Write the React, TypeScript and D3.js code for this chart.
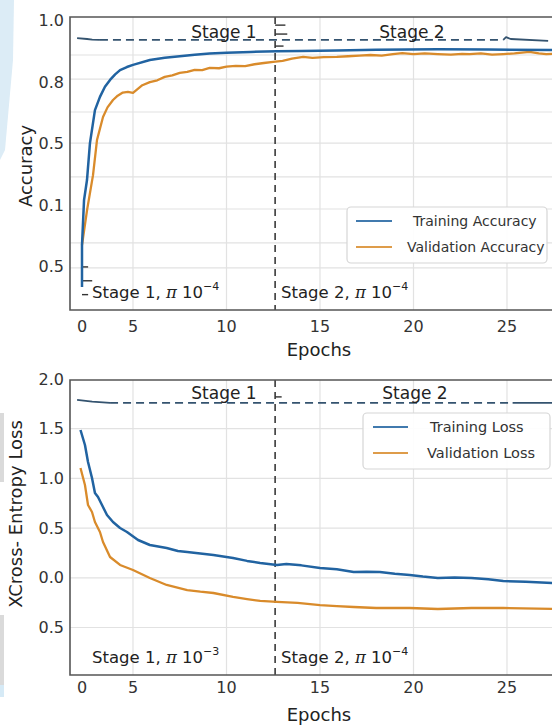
import React from 'react';
import * as d3 from 'd3';

const W = 552;
const H = 726;

// ---- axes / ticks ----
const xTicks = [0, 5, 10, 15, 20, 25];
const xGridTicks = [5, 10, 15, 20, 25];
const stageBoundary = 12.6;

const accTickValues = [1.0, 0.8, 0.6, 0.4, 0.2];
const accTickLabels = ['1.0', '0.8', '0.5', '0.1', '0.5'];
const accGridValues = [0.888, 0.81, 0.703, 0.602, 0.492, 0.388, 0.278, 0.197];

const lossTickValues = [2.0, 1.5, 1.0, 0.5, 0.0, -0.5];
const lossTickLabels = ['2.0', '1.5', '1.0', '0.5', '0.0', '0.5'];
const lossGridValues = [1.5, 1.0, 0.5, 0.0, -0.5];

// ---- accuracy series ----
const trainAccEpochs = [0, 0, 0.2, 0.49, 0.78, 1.27, 1.76, 2.25, 2.75, 3.25, 3.73, 4.4, 5, 5.9, 6.7, 7.5, 8.3, 9.1, 10.0, 11.3, 12.7, 14.0, 15.9, 18.0, 21.3, 24.0, 27.6];
const trainAcc = [0.135, 0.271, 0.417, 0.482, 0.602, 0.709, 0.752, 0.785, 0.807, 0.825, 0.839, 0.849, 0.856, 0.872, 0.879, 0.884, 0.889, 0.893, 0.895, 0.898, 0.9, 0.901, 0.903, 0.905, 0.907, 0.906, 0.904];

const valAccEpochs = [0, 0.5, 1.08, 1.47, 2.06, 2.5, 3.04, 3.5, 4.0, 4.5, 5.0, 5.5, 5.9, 6.3, 6.7, 7.1, 7.5, 7.9, 8.3, 8.7, 9.1, 9.6, 10.0, 10.5, 11.0, 11.5, 12.0, 12.5, 13.0, 13.5, 14.1, 14.6, 15.2, 15.9, 16.5, 17.1, 17.7, 18.3, 18.9, 19.4, 20.0, 20.6, 21.3, 22.0, 22.6, 23.0, 23.6, 24.2, 24.8, 25.4, 25.8, 26.2, 26.7, 27.1, 27.6];
const valAcc = [0.271, 0.385, 0.498, 0.612, 0.687, 0.718, 0.742, 0.756, 0.766, 0.768, 0.765, 0.79, 0.8, 0.806, 0.817, 0.822, 0.83, 0.833, 0.84, 0.839, 0.846, 0.845, 0.85, 0.853, 0.852, 0.858, 0.862, 0.866, 0.869, 0.876, 0.882, 0.879, 0.881, 0.882, 0.884, 0.886, 0.888, 0.886, 0.891, 0.894, 0.891, 0.893, 0.891, 0.889, 0.892, 0.891, 0.893, 0.889, 0.891, 0.893, 0.896, 0.898, 0.893, 0.891, 0.892];

const refAccSolidEpochs = [-0.49, 0.5, 1.0, 1.76];
const refAccSolid = [0.943, 0.94, 0.938, 0.937];
const refAccDashEpochs = [1.76, 24.8];
const refAccDash = [0.937, 0.937];
const refAccTailEpochs = [24.8, 24.95, 25.2, 27.2];
const refAccTail = [0.937, 0.946, 0.94, 0.934];

const accBoundaryTickValues = [0.985, 0.956, 0.917];
const accBoundaryTickLengths = [0.55, 0.65, 0.45];
const accStartTickValues = [0.2, 0.155, 0.11];
const accStartTickLengths = [0.6, 1.0, 0.6];

// ---- loss series ----
const trainLossEpochs = [-0.15, 0.29, 0.59, 0.98, 1.27, 1.57, 1.96, 2.45, 3.04, 3.73, 4.41, 5.27, 5.9, 6.8, 7.4, 7.9, 8.6, 9.3, 10.35, 11.1, 11.8, 12.7, 13.2, 14.0, 15.0, 15.9, 16.8, 17.5, 18.2, 19.0, 19.8, 20.5, 21.3, 22.2, 23.1, 24.0, 24.8, 26.0, 27.6];
const trainLoss = [1.487, 1.336, 1.165, 1.004, 0.853, 0.813, 0.732, 0.632, 0.561, 0.501, 0.461, 0.38, 0.33, 0.3, 0.27, 0.26, 0.245, 0.229, 0.199, 0.17, 0.149, 0.129, 0.139, 0.125, 0.099, 0.085, 0.058, 0.062, 0.058, 0.04, 0.028, 0.012, -0.002, 0.003, -0.002, -0.015, -0.032, -0.04, -0.055];

const valLossEpochs = [-0.15, 0.29, 0.59, 0.98, 1.27, 1.76, 2.06, 2.75, 3.73, 5.0, 5.9, 6.8, 7.9, 8.6, 9.3, 10.35, 11.1, 11.8, 12.7, 13.8, 15.0, 15.9, 16.8, 18.0, 19.8, 21.3, 23.1, 24.8, 27.6];
const valLoss = [1.105, 0.934, 0.732, 0.662, 0.561, 0.461, 0.36, 0.209, 0.129, 0.078, -0.002, -0.072, -0.123, -0.14, -0.153, -0.193, -0.215, -0.233, -0.243, -0.253, -0.274, -0.285, -0.294, -0.304, -0.304, -0.314, -0.304, -0.304, -0.314];

const refLossSolidEpochs = [-0.49, 1.0, 2.75];
const refLossSolid = [1.789, 1.772, 1.759];
const refLossDashEpochs = [2.75, 25.3];
const refLossDash = [1.759, 1.759];
const refLossTailEpochs = [25.3, 27.6];
const refLossTail = [1.759, 1.759];

const lossBoundaryTickValues = [1.82];
const lossBoundaryTickLengths = [0.35];

// ---- styles ----
const BLUE = '#2163a1';
const ORANGE = '#d98b2b';
const REF = '#34536f';
const FRAME = '#555';
const GRID = '#e2e2e2';
const FONT = 'DejaVu Sans, sans-serif';

const PLOT_LEFT = 70;
const PLOT_RIGHT = 556;

const x = d3.scaleLinear().domain([-1.2, 0, 5, 25]).range([PLOT_LEFT, 82, 133, 507]);

const zip = (a: number[], b: number[]) => a.map((v, i) => [v, b[i]] as [number, number]);

type PanelProps = {
  id: string;
  top: number;
  bottom: number;
  y: d3.ScaleLinear<number, number>;
  tickValues: number[];
  tickLabels: string[];
  gridValues: number[];
  series: { pts: [number, number][]; color: string; width: number; dash?: string }[];
  stageY: number;
  stageLeftText: string;
  stageLeftExp: string;
  stageRightExp: string;
  stageTextY: number;
  stage1X: number;
  stage2X: number;
  xLabelY: number;
  tickLabelY: number;
  legend: { x: number; y: number; w: number; h: number; items: { label: string; color: string; tx: number }[]; fs: number; lineX0: number; lineX1: number; rowH: number };
  yTitle: string;
  yTitleX: number;
  yTitleY: number;
  boundaryTicks: { v: number; len: number }[];
  startTicks: { v: number; len: number }[];
};

function Panel(p: PanelProps) {
  const line = d3
    .line<[number, number]>()
    .x((d) => x(d[0]))
    .y((d) => p.y(d[1]));
  const bx = x(stageBoundary);
  return (
    <g>
      <defs>
        <clipPath id={p.id}>
          <rect x={PLOT_LEFT} y={p.top} width={PLOT_RIGHT - PLOT_LEFT} height={p.bottom - p.top} />
        </clipPath>
      </defs>
      {/* grid */}
      {p.gridValues.map((v, i) => (
        <line key={'gy' + i} x1={PLOT_LEFT} x2={PLOT_RIGHT} y1={p.y(v)} y2={p.y(v)} stroke={GRID} strokeWidth={1.2} />
      ))}
      {xGridTicks.map((t) => (
        <line key={'gx' + t} x1={x(t)} x2={x(t)} y1={p.top} y2={p.bottom} stroke={GRID} strokeWidth={1.2} />
      ))}
      {/* stage boundary */}
      <line x1={bx} x2={bx} y1={p.top} y2={p.bottom} stroke="#3a3a3a" strokeWidth={1.6} strokeDasharray="7,5" />
      {p.boundaryTicks.map((t, i) => (
        <line key={'bt' + i} x1={bx} x2={x(stageBoundary + t.len)} y1={p.y(t.v)} y2={p.y(t.v)} stroke="#333" strokeWidth={1.4} />
      ))}
      {p.startTicks.map((t, i) => (
        <line key={'st' + i} x1={x(0)} x2={x(t.len)} y1={p.y(t.v)} y2={p.y(t.v)} stroke="#333" strokeWidth={1.4} />
      ))}
      {/* series */}
      <g clipPath={`url(#${p.id})`}>
        {p.series.map((s, i) => (
          <path
            key={'s' + i}
            d={line(s.pts) || ''}
            fill="none"
            stroke={s.color}
            strokeWidth={s.width}
            strokeDasharray={s.dash}
            strokeLinejoin="round"
            strokeLinecap="butt"
          />
        ))}
      </g>
      {/* frame */}
      <path
        d={`M${PLOT_RIGHT},${p.top}H${PLOT_LEFT}V${p.bottom}H${PLOT_RIGHT}`}
        fill="none"
        stroke={FRAME}
        strokeWidth={1.6}
      />
      {/* y tick labels */}
      {p.tickValues.map((v, i) => (
        <text key={'yl' + i} x={64} y={p.y(v)} textAnchor="end" dominantBaseline="central" fontSize={16} fontFamily={FONT} fill="#333">
          {p.tickLabels[i]}
        </text>
      ))}
      {/* x tick labels */}
      {xTicks.map((t) => (
        <text key={'xl' + t} x={x(t)} y={p.tickLabelY} textAnchor="middle" fontSize={16} fontFamily={FONT} fill="#333">
          {t}
        </text>
      ))}
      {/* stage titles */}
      <text x={p.stage1X} y={p.stageY} textAnchor="middle" fontSize={17} fontFamily={FONT} fill="#222">
        Stage 1
      </text>
      <text x={p.stage2X} y={p.stageY} textAnchor="middle" fontSize={17} fontFamily={FONT} fill="#222">
        Stage 2
      </text>
      {/* stage lr annotations */}
      <text x={92} y={p.stageTextY} fontSize={16.5} fontFamily={FONT} fill="#222">
        {p.stageLeftText}
        <tspan fontStyle="italic" fontFamily="DejaVu Serif, serif">π</tspan>
        {' 10'}
        <tspan fontSize={11} dy={-8}>{p.stageLeftExp}</tspan>
      </text>
      <text x={281} y={p.stageTextY} fontSize={16.5} fontFamily={FONT} fill="#222">
        {'Stage 2, '}
        <tspan fontStyle="italic" fontFamily="DejaVu Serif, serif">π</tspan>
        {' 10'}
        <tspan fontSize={11} dy={-8}>{p.stageRightExp}</tspan>
      </text>
      {/* legend */}
      <rect x={p.legend.x} y={p.legend.y} width={p.legend.w} height={p.legend.h} rx={4} fill="#fff" fillOpacity={0.92} stroke="#d6d6d6" strokeWidth={1.2} />
      {p.legend.items.map((it, i) => {
        const cy = p.legend.y + 14 + i * p.legend.rowH;
        return (
          <g key={'lg' + i}>
            <line x1={p.legend.lineX0} x2={p.legend.lineX1} y1={cy} y2={cy} stroke={it.color} strokeWidth={2.2} opacity={0.85} />
            <text x={it.tx} y={cy} dominantBaseline="central" fontSize={p.legend.fs} fontFamily={FONT} fill="#333">
              {it.label}
            </text>
          </g>
        );
      })}
      {/* axis titles */}
      <text x={319} y={p.xLabelY} textAnchor="middle" fontSize={18} fontFamily={FONT} fill="#222">
        Epochs
      </text>
      <text
        transform={`translate(${p.yTitleX},${p.yTitleY}) rotate(-90)`}
        textAnchor="middle"
        dominantBaseline="central"
        fontSize={18}
        fontFamily={FONT}
        fill="#222"
      >
        {p.yTitle}
      </text>
    </g>
  );
}

export default function App() {
  const yAcc = d3.scaleLinear().domain([0.0601, 1.0114]).range([310, 17]);
  const yLoss = d3.scaleLinear().domain([-0.978, 1.99]).range([675, 380]);

  return (
    <svg width={W} height={H} viewBox={`0 0 ${W} ${H}`} style={{ position: 'absolute', left: 0, top: 0, background: '#fff' }}>
      {/* page artifacts at left edge */}
      <polygon points="0,0 14,0 13,60 5,150 0,160" fill="#dcecf6" />
      <rect x={0} y={413} width={4} height={69} fill="#dadada" />
      <rect x={0} y={615} width={4} height={70} fill="#dadada" />
      <rect x={0} y={685} width={4} height={12} fill="#d6eaf6" />

      <Panel
        id="clipA"
        top={17}
        bottom={310}
        y={yAcc}
        tickValues={accTickValues}
        tickLabels={accTickLabels}
        gridValues={accGridValues}
        series={[
          { pts: zip(refAccSolidEpochs, refAccSolid), color: REF, width: 1.8 },
          { pts: zip(refAccDashEpochs, refAccDash), color: REF, width: 1.8, dash: '8,5' },
          { pts: zip(refAccTailEpochs, refAccTail), color: REF, width: 1.8 },
          { pts: zip(valAccEpochs, valAcc), color: ORANGE, width: 2.3 },
          { pts: zip(trainAccEpochs, trainAcc), color: BLUE, width: 2.5 },
        ]}
        stageY={37.5}
        stage1X={224}
        stage2X={412}
        stageTextY={298}
        stageLeftText={'Stage 1, '}
        stageLeftExp={'−4'}
        stageRightExp={'−4'}
        tickLabelY={332}
        xLabelY={356}
        legend={{
          x: 347,
          y: 207,
          w: 200,
          h: 56,
          fs: 14,
          lineX0: 356,
          lineX1: 392,
          rowH: 26,
          items: [
            { label: 'Training Accuracy', color: BLUE, tx: 413 },
            { label: 'Validation Accuracy', color: ORANGE, tx: 407 },
          ],
        }}
        yTitle="Accuracy"
        yTitleX={25}
        yTitleY={166}
        boundaryTicks={accBoundaryTickValues.map((v, i) => ({ v, len: accBoundaryTickLengths[i] }))}
        startTicks={accStartTickValues.map((v, i) => ({ v, len: accStartTickLengths[i] }))}
      />

      <Panel
        id="clipB"
        top={380}
        bottom={675}
        y={yLoss}
        tickValues={lossTickValues}
        tickLabels={lossTickLabels}
        gridValues={lossGridValues}
        series={[
          { pts: zip(refLossSolidEpochs, refLossSolid), color: REF, width: 1.8 },
          { pts: zip(refLossDashEpochs, refLossDash), color: REF, width: 1.8, dash: '8,5' },
          { pts: zip(refLossTailEpochs, refLossTail), color: REF, width: 1.8 },
          { pts: zip(valLossEpochs, valLoss), color: ORANGE, width: 2.3 },
          { pts: zip(trainLossEpochs, trainLoss), color: BLUE, width: 2.5 },
        ]}
        stageY={399}
        stage1X={224}
        stage2X={415}
        stageTextY={663}
        stageLeftText={'Stage 1, '}
        stageLeftExp={'−3'}
        stageRightExp={'−4'}
        tickLabelY={693}
        xLabelY={721}
        legend={{
          x: 363,
          y: 413,
          w: 187,
          h: 56,
          fs: 14.5,
          lineX0: 373,
          lineX1: 408,
          rowH: 26,
          items: [
            { label: 'Training Loss', color: BLUE, tx: 430 },
            { label: 'Validation Loss', color: ORANGE, tx: 427 },
          ],
        }}
        yTitle="XCross- Entropy Loss"
        yTitleX={15}
        yTitleY={514}
        boundaryTicks={lossBoundaryTickValues.map((v, i) => ({ v, len: lossBoundaryTickLengths[i] }))}
        startTicks={[]}
      />
    </svg>
  );
}
